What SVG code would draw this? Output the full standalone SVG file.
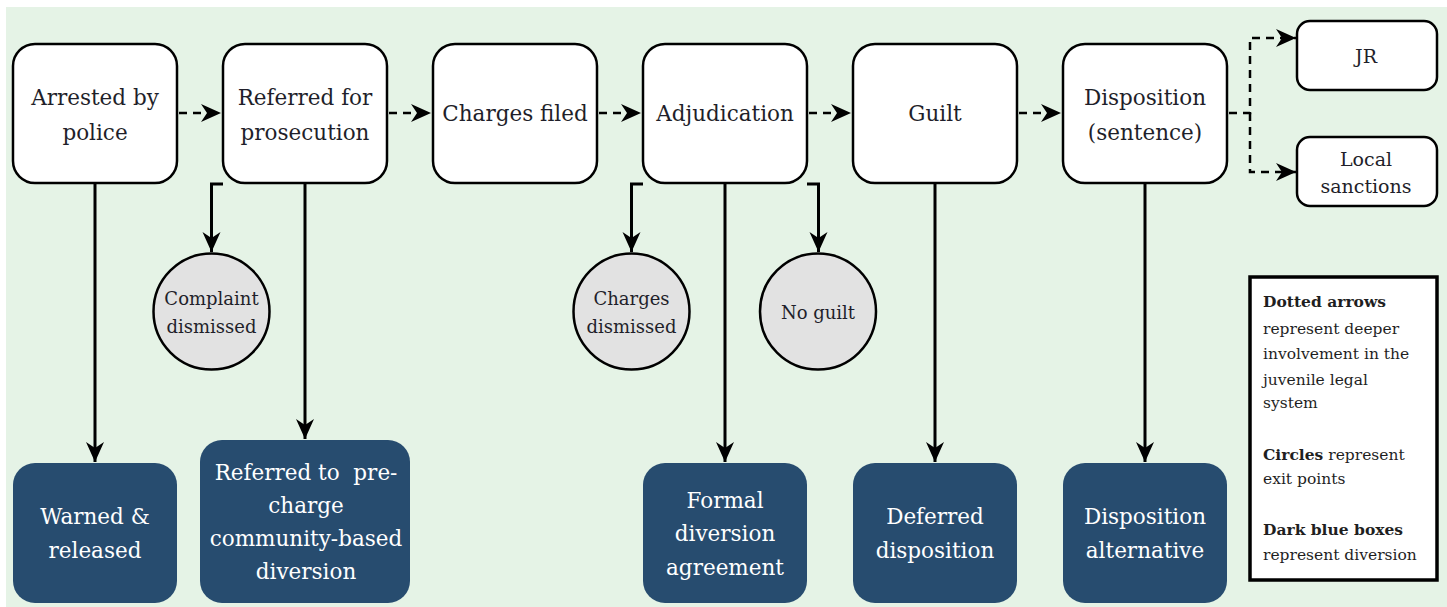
<svg xmlns="http://www.w3.org/2000/svg" width="1447" height="607" viewBox="0 0 1447 607">
<defs>
<marker id="ah" markerUnits="userSpaceOnUse" markerWidth="22" markerHeight="20" refX="20" refY="9" orient="auto">
<path d="M0,0 L20,9 L0,18 L6,9 Z" fill="#000"/>
</marker>
<style>
.bg{fill:#e5f3e6}
.box{fill:#fff;stroke:#000;stroke-width:2.5}
.dark{fill:#274c6f}
.circ{fill:#e2e2e2;stroke:#000;stroke-width:2.5}
text{font-family:"DejaVu Serif",serif}
.t{font-size:21.5px;fill:#1f1f2a;text-anchor:middle}
.w{font-size:21.5px;fill:#fff;text-anchor:middle;white-space:pre}
.c{font-size:18px;fill:#1f1f2a;text-anchor:middle}
.s{font-size:19px;fill:#1f1f2a;text-anchor:middle}
.l{font-size:15.5px;fill:#1f1f1f}
.dash{fill:none;stroke:#000;stroke-width:2.5;stroke-dasharray:8 6}
.solid{fill:none;stroke:#000;stroke-width:3}
</style>
</defs>
<rect class="bg" x="6" y="7" width="1441" height="600"/>

<g id="connectors">
<path class="dash" d="M179,113 H221" marker-end="url(#ah)"/>
<path class="dash" d="M389,113 H431" marker-end="url(#ah)"/>
<path class="dash" d="M599,113 H641" marker-end="url(#ah)"/>
<path class="dash" d="M809,113 H851" marker-end="url(#ah)"/>
<path class="dash" d="M1019,113 H1061" marker-end="url(#ah)"/>
<path class="dash" d="M1229,113 H1250 V38 H1296" marker-end="url(#ah)"/>
<path class="dash" d="M1250,113 V172 H1296" marker-end="url(#ah)"/>
<path class="solid" d="M95,184 V462" marker-end="url(#ah)"/>
<path class="solid" d="M305,184 V439" marker-end="url(#ah)"/>
<path class="solid" d="M725,184 V462" marker-end="url(#ah)"/>
<path class="solid" d="M935,184 V462" marker-end="url(#ah)"/>
<path class="solid" d="M1145,184 V462" marker-end="url(#ah)"/>
<path class="solid" d="M223,184 H211.5 V252" marker-end="url(#ah)"/>
<path class="solid" d="M643,184 H631.5 V252" marker-end="url(#ah)"/>
<path class="solid" d="M807,184 H818.5 V252" marker-end="url(#ah)"/>
</g>

<g id="arrested">
<rect class="box" x="13" y="44" width="164" height="139" rx="22"/>
<text class="t" x="95" y="105">Arrested by</text>
<text class="t" x="95" y="140">police</text>
</g>
<g id="referred">
<rect class="box" x="223" y="44" width="164" height="139" rx="22"/>
<text class="t" x="305" y="105">Referred for</text>
<text class="t" x="305" y="140">prosecution</text>
</g>
<g id="charges-filed">
<rect class="box" x="433" y="44" width="164" height="139" rx="22"/>
<text class="t" x="515" y="121">Charges filed</text>
</g>
<g id="adjudication">
<rect class="box" x="643" y="44" width="164" height="139" rx="22"/>
<text class="t" x="725" y="121">Adjudication</text>
</g>
<g id="guilt">
<rect class="box" x="853" y="44" width="164" height="139" rx="22"/>
<text class="t" x="935" y="121">Guilt</text>
</g>
<g id="disposition">
<rect class="box" x="1063" y="44" width="164" height="139" rx="22"/>
<text class="t" x="1145" y="105">Disposition</text>
<text class="t" x="1145" y="140">(sentence)</text>
</g>
<g id="jr">
<rect class="box" x="1297" y="21" width="140" height="69" rx="13"/>
<text class="s" x="1366" y="63">JR</text>
</g>
<g id="local-sanctions">
<rect class="box" x="1297" y="137" width="140" height="69" rx="13"/>
<text class="s" x="1366" y="166">Local</text>
<text class="s" x="1366" y="193">sanctions</text>
</g>

<g id="complaint-dismissed">
<circle class="circ" cx="211.5" cy="311.5" r="58"/>
<text class="c" x="211.5" y="305">Complaint</text>
<text class="c" x="211.5" y="333">dismissed</text>
</g>
<g id="charges-dismissed">
<circle class="circ" cx="631.5" cy="311.5" r="58"/>
<text class="c" x="631.5" y="305">Charges</text>
<text class="c" x="631.5" y="333">dismissed</text>
</g>
<g id="no-guilt">
<circle class="circ" cx="818" cy="311.5" r="58"/>
<text class="c" x="818" y="319">No guilt</text>
</g>

<g id="warned">
<rect class="dark" x="13" y="463" width="164" height="140" rx="22"/>
<text class="w" x="95" y="524">Warned &amp;</text>
<text class="w" x="95" y="558">released</text>
</g>
<g id="precharge">
<rect class="dark" x="200" y="440" width="210" height="163" rx="22"/>
<text class="w" x="306" y="480">Referred to  pre-</text>
<text class="w" x="306" y="513">charge</text>
<text class="w" x="306" y="546">community-based</text>
<text class="w" x="306" y="579">diversion</text>
</g>
<g id="formal">
<rect class="dark" x="643" y="463" width="164" height="140" rx="22"/>
<text class="w" x="725" y="508">Formal</text>
<text class="w" x="725" y="541">diversion</text>
<text class="w" x="725" y="575">agreement</text>
</g>
<g id="deferred">
<rect class="dark" x="853" y="463" width="164" height="140" rx="22"/>
<text class="w" x="935" y="524">Deferred</text>
<text class="w" x="935" y="558">disposition</text>
</g>
<g id="alternative">
<rect class="dark" x="1063" y="463" width="164" height="140" rx="22"/>
<text class="w" x="1145" y="524">Disposition</text>
<text class="w" x="1145" y="558">alternative</text>
</g>

<g id="legend">
<rect x="1250" y="277" width="187" height="303" fill="#fff" stroke="#000" stroke-width="3.5"/>
<text class="l" x="1263" y="307"><tspan font-weight="bold">Dotted arrows</tspan></text>
<text class="l" x="1263" y="334">represent deeper</text>
<text class="l" x="1263" y="359">involvement in the</text>
<text class="l" x="1263" y="385">juvenile legal</text>
<text class="l" x="1263" y="408">system</text>
<text class="l" x="1263" y="460"><tspan font-weight="bold">Circles</tspan> represent</text>
<text class="l" x="1263" y="484">exit points</text>
<text class="l" x="1263" y="535"><tspan font-weight="bold">Dark blue boxes</tspan></text>
<text class="l" x="1263" y="560">represent diversion</text>
</g>
</svg>
